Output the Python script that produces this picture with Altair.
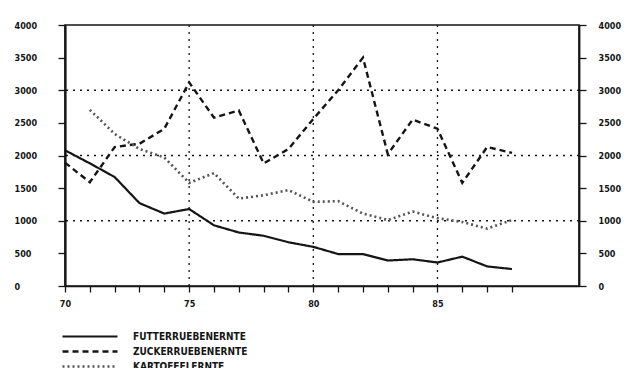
import altair as alt
import pandas as pd

# Harvest series, 1970-1988 (values in the chart's units)
jahre = list(range(70, 89))
futterrueben = [2080, 1880, 1670, 1270, 1110, 1180, 930, 820, 770, 670,
                600, 490, 490, 390, 410, 360, 450, 300, 260]
zuckerrueben = [1890, 1590, 2130, 2180, 2410, 3120, 2580, 2690, 1880, 2100,
                2560, 3000, 3500, 2020, 2550, 2410, 1580, 2130, 2040]
kartoffeln = [None, 2700, 2330, 2100, 1970, 1580, 1730, 1340, 1390, 1470,
              1290, 1300, 1110, 1010, 1140, 1040, 980, 880, 1010]

reihen = ["FUTTERRUEBENERNTE", "ZUCKERRUEBENERNTE", "KARTOFFELERNTE"]
h_gitter = [1000, 2000, 3000]
v_gitter = [75, 80, 85]
y_ticks = list(range(0, 4001, 500))

rows = []
for name, werte in zip(reihen, [futterrueben, zuckerrueben, kartoffeln]):
    for j, w in zip(jahre, werte):
        if w is not None:
            rows.append({"jahr": j, "wert": w, "reihe": name})
df = pd.DataFrame(rows)

FONT = "DejaVu Sans Condensed, Liberation Sans Narrow, DejaVu Sans"
INK = "#151515"

x_scale = alt.Scale(domain=[70, 90.7], nice=False, zero=False)
y_scale = alt.Scale(domain=[0, 4000], nice=False)
x_axis = alt.Axis(values=jahre, labelExpr="datum.value % 5 == 0 ? datum.value : ''",
                  title=None, grid=False, tickSize=6, labelPadding=7,
                  domainWidth=1.6, labelFlush=False)

gitter_h = alt.Chart(pd.DataFrame({"wert": h_gitter})).mark_rule(
    color=INK, strokeWidth=1.3, strokeDash=[2, 5]
).encode(
    y=alt.Y("wert:Q", scale=y_scale,
            axis=alt.Axis(orient="right", values=y_ticks, title=None, grid=False,
                          tickSize=7, labelPadding=12, labelAlign="left",
                          domainWidth=1.8, format="d"))
)

gitter_v = alt.Chart(pd.DataFrame({"jahr": v_gitter})).mark_rule(
    color=INK, strokeWidth=1.3, strokeDash=[2, 5]
).encode(x=alt.X("jahr:Q", scale=x_scale, axis=x_axis))

# long horizontal legend key: a wide path inside a small symbol box keeps rows compact
legend_key = "M-3.4375,0H3.4375"

linien = alt.Chart(df).mark_line().encode(
    x=alt.X("jahr:Q", scale=x_scale, axis=x_axis),
    y=alt.Y("wert:Q", scale=y_scale,
            axis=alt.Axis(orient="left", values=y_ticks, title=None, grid=False,
                          tickSize=7, labelPadding=44, labelAlign="left",
                          domainWidth=2.2, format="d")),
    strokeDash=alt.StrokeDash("reihe:N", sort=reihen, title=None,
                              scale=alt.Scale(domain=reihen, range=[[1, 0], [6, 4], [2, 3]])),
    strokeWidth=alt.StrokeWidth("reihe:N", sort=reihen, title=None,
                                scale=alt.Scale(domain=reihen, range=[2.2, 2.6, 1.1])),
    color=alt.Color("reihe:N", sort=reihen, title=None,
                    scale=alt.Scale(domain=reihen, range=[INK, INK, "#555555"]),
                    legend=alt.Legend(orient="none", legendX=15.5, legendY=302,
                                      symbolType=legend_key, symbolSize=256,
                                      labelFont=FONT, labelFontSize=10,
                                      labelFontWeight="bold", labelColor=INK,
                                      labelOffset=33.5, rowPadding=0)),
    detail="reihe:N",
)

chart = alt.layer(gitter_h, gitter_v, linien).resolve_scale(y="independent").properties(
    width=514, height=261,
    autosize=alt.AutoSizeParams(type="none"),
    padding={"left": 65, "top": 25, "right": 55, "bottom": 82},
    background="white",
).configure_view(stroke=INK, strokeWidth=1.6).configure_axis(
    domainColor=INK, tickColor=INK, tickWidth=1.3, labelColor=INK,
    labelFont=FONT, labelFontSize=9, labelFontWeight="bold"
)

chart.save("out.html", embed_options={"renderer": "svg", "actions": False})
